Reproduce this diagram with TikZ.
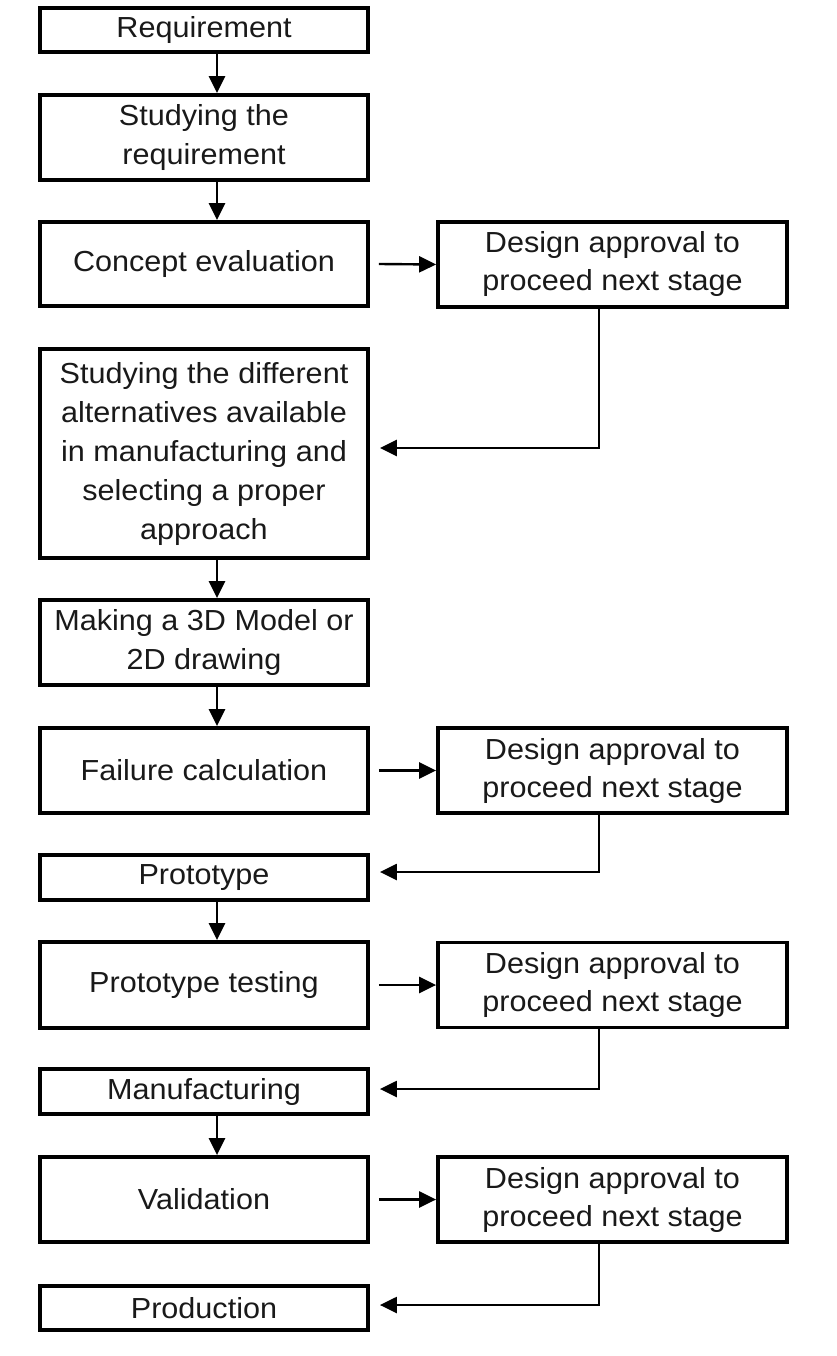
\documentclass[tikz,border=0pt]{standalone}
\usepackage{fontspec}
\setmainfont{Liberation Sans}[FakeStretch=1.055]
\usetikzlibrary{arrows.meta}
\begin{document}
\begin{tikzpicture}[x=1pt,y=-1pt,
  box/.style={draw=black, line width=3.8pt, rectangle, inner sep=0pt, align=center, text=black!90},
  lbox/.style={box, minimum width=328pt, font=\fontsize{29}{39}\selectfont},
  rbox/.style={box, minimum width=349pt, minimum height=85pt, font=\fontsize{29}{38}\selectfont},
  arr/.style={line width=2.4pt, -{Triangle[length=17pt,width=16pt]}}]
\useasboundingbox (0,0) rectangle (837,1356);
\coordinate (vx) at (217,0);
\coordinate (vr) at (599,0);
% left column
\node[lbox, minimum height=44pt] (n1) at (204,30) {Requirement};
\node[lbox, minimum height=85pt] (n2) at (204,137.5) {Studying the\\requirement};
\node[lbox, minimum height=84pt] (n3) at (204,264) {Concept evaluation};
\node[lbox, minimum height=209pt] (n4) at (204,453.5) {Studying the different\\alternatives available\\in manufacturing and\\selecting a proper\\approach};
\node[lbox, minimum height=85pt] (n5) at (204,642.5) {Making a 3D Model or\\2D drawing};
\node[lbox, minimum height=85pt] (n6) at (204,770.5) {Failure calculation};
\node[lbox, minimum height=45pt] (n7) at (204,877.5) {Prototype};
\node[lbox, minimum height=86pt] (n8) at (204,985) {Prototype testing};
\node[lbox, minimum height=45pt] (n9) at (204,1091.5) {Manufacturing};
\node[lbox, minimum height=85pt] (n10) at (204,1199.5) {Validation};
\node[lbox, minimum height=44pt] (n11) at (204,1308) {Production};
% right column
\node[rbox] (r1) at (612.5,264.5) {Design approval to\\proceed next stage};
\node[rbox] (r2) at (612.5,770.5) {Design approval to\\proceed next stage};
\node[rbox] (r3) at (612.5,985) {Design approval to\\proceed next stage};
\node[rbox] (r4) at (612.5,1199.5) {Design approval to\\proceed next stage};
% vertical arrows
\draw[arr] (n1.south -| vx) -- (n2.north -| vx);
\draw[arr] (n2.south -| vx) -- (n3.north -| vx);
\draw[arr] (n4.south -| vx) -- (n5.north -| vx);
\draw[arr] (n5.south -| vx) -- (n6.north -| vx);
\draw[arr] (n7.south -| vx) -- (n8.north -| vx);
\draw[arr] (n9.south -| vx) -- (n10.north -| vx);
% forward arrows
\draw[arr] ([xshift=9pt]n3.east) -- (r1.west);
\draw[arr] ([xshift=9pt]n6.east) -- (r2.west);
\draw[arr] ([xshift=9pt]n8.east) -- (r3.west);
\draw[arr] ([xshift=9pt]n10.east) -- (r4.west);
% return arrows
\draw[arr] (r1.south -| vr) |- ([xshift=10pt,yshift=5.5pt]n4.east);
\draw[arr] (r2.south -| vr) |- ([xshift=10pt,yshift=5.5pt]n7.east);
\draw[arr] (r3.south -| vr) |- ([xshift=10pt,yshift=2.5pt]n9.east);
\draw[arr] (r4.south -| vr) |- ([xshift=10pt,yshift=3pt]n11.east);
\end{tikzpicture}
\end{document}
